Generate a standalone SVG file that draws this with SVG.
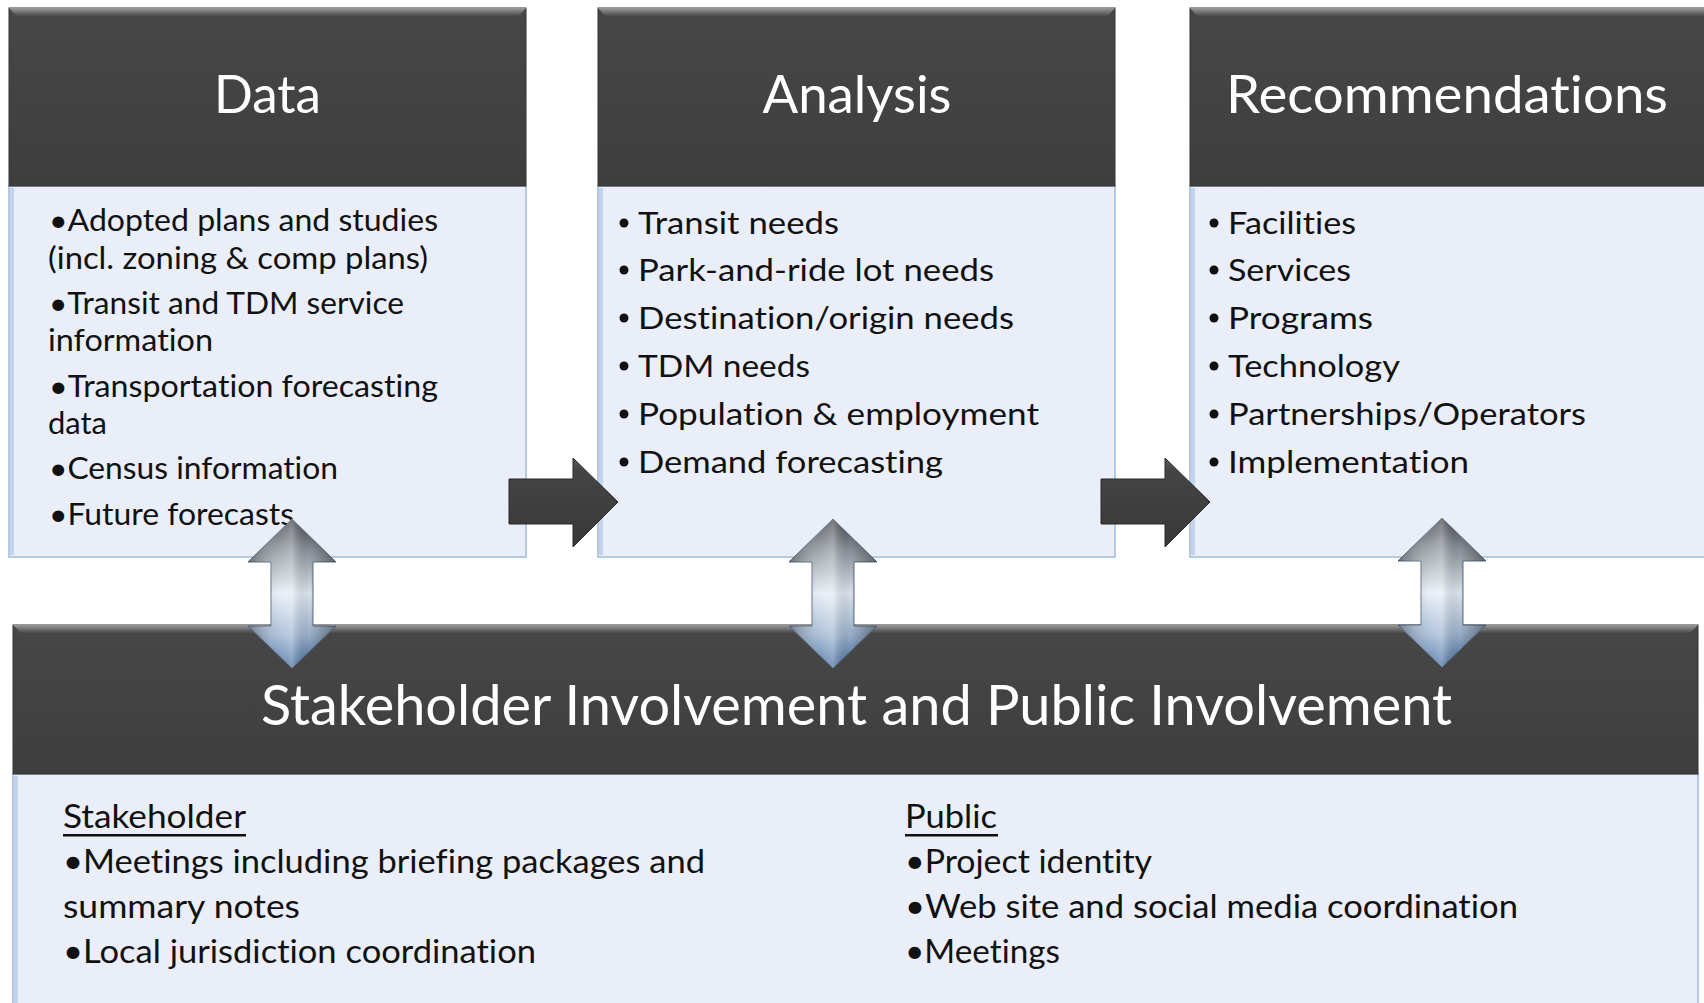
<svg xmlns="http://www.w3.org/2000/svg" width="1704" height="1003" viewBox="0 0 1704 1003">
<defs>
<linearGradient id="hdr" x1="0" y1="0" x2="0" y2="1"><stop offset="0" stop-color="#474747"/><stop offset="1" stop-color="#3e3e3e"/></linearGradient>
<linearGradient id="bevT" x1="0" y1="0" x2="0" y2="1"><stop offset="0" stop-color="#9a9a9a"/><stop offset="1" stop-color="#4a4a4a"/></linearGradient>
<linearGradient id="vfill" x1="0" y1="0" x2="0" y2="1"><stop offset="0" stop-color="#3f4246"/><stop offset="0.2" stop-color="#8d949c"/><stop offset="0.5" stop-color="#e4ecf4"/><stop offset="0.78" stop-color="#9fb6d2"/><stop offset="1" stop-color="#3f6a9e"/></linearGradient>
<linearGradient id="vsheen" x1="0" y1="0" x2="1" y2="0"><stop offset="0" stop-color="#000" stop-opacity="0.35"/><stop offset="0.35" stop-color="#fff" stop-opacity="0.15"/><stop offset="0.5" stop-color="#fff" stop-opacity="0.3"/><stop offset="0.7" stop-color="#000" stop-opacity="0.05"/><stop offset="1" stop-color="#000" stop-opacity="0.4"/></linearGradient>
<linearGradient id="hfill" x1="0" y1="0" x2="0" y2="1"><stop offset="0" stop-color="#5a5a5a"/><stop offset="0.15" stop-color="#444"/><stop offset="1" stop-color="#383838"/></linearGradient>
<polygon id="varrow" points="0,0 44,43 21,43 21,107 44,107 0,149 -44,107 -21,107 -21,43 -44,43"/>
<polygon id="harrow" points="0,21 64,21 64,0 109,44 64,89 64,66 0,66"/>
</defs>
<style>
.hdr{fill:url(#hdr);stroke:#333;stroke-width:1}
.bev{fill:url(#bevT)}
.body{fill:#e9eef8;stroke:#b6c9e3;stroke-width:2}
.edge{stroke:#c3d3ea;stroke-width:4}
text{font-variant-ligatures:none}
.title{font-family:Lato,"Open Sans",sans-serif;font-size:52px;fill:#ffffff;text-anchor:middle}
.big{font-family:Lato,"Open Sans",sans-serif;font-size:56px;fill:#ffffff}
.t{font-family:Lato,"Open Sans",sans-serif;font-size:31px;fill:#111111}
.b{font-family:Lato,"Open Sans",sans-serif;font-size:32px;fill:#111111}
.dot{fill:#111111}
</style>
<rect width="1704" height="1003" fill="#ffffff"/>

<g id="data">
<rect class="body" x="9" y="186" width="517" height="371"/>
<line class="edge" x1="12" y1="188" x2="12" y2="555"/>
<rect class="hdr" x="9" y="8" width="517" height="178"/>
<polygon class="bev" points="9,8 526,8 519,16 16,16"/>
<text class="title" x="267.5" y="113" textLength="107" lengthAdjust="spacingAndGlyphs">Data</text>
<text class="t" x="49" y="231" textLength="389" lengthAdjust="spacingAndGlyphs">•Adopted plans and studies</text>
<text class="t" x="48" y="269" textLength="380" lengthAdjust="spacingAndGlyphs">(incl. zoning &amp; comp plans)</text>
<text class="t" x="49" y="314" textLength="355" lengthAdjust="spacingAndGlyphs">•Transit and TDM service</text>
<text class="t" x="48" y="351" textLength="165" lengthAdjust="spacingAndGlyphs">information</text>
<text class="t" x="49" y="397" textLength="389" lengthAdjust="spacingAndGlyphs">•Transportation forecasting</text>
<text class="t" x="48" y="434" textLength="59" lengthAdjust="spacingAndGlyphs">data</text>
<text class="t" x="49" y="479" textLength="289" lengthAdjust="spacingAndGlyphs">•Census information</text>
<text class="t" x="49" y="525" textLength="245" lengthAdjust="spacingAndGlyphs">•Future forecasts</text>
</g>

<g id="analysis">
<rect class="body" x="598" y="186" width="517" height="371"/>
<line class="edge" x1="601" y1="188" x2="601" y2="555"/>
<rect class="hdr" x="598" y="8" width="517" height="178"/>
<polygon class="bev" points="598,8 1115,8 1108,16 605,16"/>
<text class="title" x="857" y="113" textLength="189" lengthAdjust="spacingAndGlyphs">Analysis</text>
<circle class="dot" cx="624" cy="223" r="4.5"/>
<circle class="dot" cx="624" cy="270" r="4.5"/>
<circle class="dot" cx="624" cy="318" r="4.5"/>
<circle class="dot" cx="624" cy="366" r="4.5"/>
<circle class="dot" cx="624" cy="414" r="4.5"/>
<circle class="dot" cx="624" cy="462" r="4.5"/>
<text class="t" x="638" y="234" textLength="201" lengthAdjust="spacingAndGlyphs">Transit needs</text>
<text class="t" x="638" y="281" textLength="356" lengthAdjust="spacingAndGlyphs">Park-and-ride lot needs</text>
<text class="t" x="638" y="329" textLength="376" lengthAdjust="spacingAndGlyphs">Destination/origin needs</text>
<text class="t" x="638" y="377" textLength="172" lengthAdjust="spacingAndGlyphs">TDM needs</text>
<text class="t" x="638" y="425" textLength="401" lengthAdjust="spacingAndGlyphs">Population &amp; employment</text>
<text class="t" x="638" y="473" textLength="305" lengthAdjust="spacingAndGlyphs">Demand forecasting</text>
</g>

<g id="recommendations">
<rect class="body" x="1190" y="186" width="520" height="371"/>
<line class="edge" x1="1193" y1="188" x2="1193" y2="555"/>
<rect class="hdr" x="1190" y="8" width="520" height="178"/>
<polygon class="bev" points="1190,8 1710,8 1710,16 1197,16"/>
<text class="title" x="1447" y="113" textLength="442" lengthAdjust="spacingAndGlyphs">Recommendations</text>
<circle class="dot" cx="1214" cy="223" r="4.5"/>
<circle class="dot" cx="1214" cy="270" r="4.5"/>
<circle class="dot" cx="1214" cy="318" r="4.5"/>
<circle class="dot" cx="1214" cy="366" r="4.5"/>
<circle class="dot" cx="1214" cy="414" r="4.5"/>
<circle class="dot" cx="1214" cy="462" r="4.5"/>
<text class="t" x="1228" y="234" textLength="128" lengthAdjust="spacingAndGlyphs">Facilities</text>
<text class="t" x="1228" y="281" textLength="123" lengthAdjust="spacingAndGlyphs">Services</text>
<text class="t" x="1228" y="329" textLength="145" lengthAdjust="spacingAndGlyphs">Programs</text>
<text class="t" x="1228" y="377" textLength="172" lengthAdjust="spacingAndGlyphs">Technology</text>
<text class="t" x="1228" y="425" textLength="358" lengthAdjust="spacingAndGlyphs">Partnerships/Operators</text>
<text class="t" x="1228" y="473" textLength="241" lengthAdjust="spacingAndGlyphs">Implementation</text>
</g>

<g id="involvement">
<rect class="body" x="13" y="774" width="1685" height="240"/>
<line class="edge" x1="16" y1="776" x2="16" y2="1003"/>
<rect class="hdr" x="13" y="625" width="1685" height="149"/>
<polygon class="bev" points="13,625 1698,625 1690,633 21,633"/>
<text class="big" x="261" y="725" textLength="1191" lengthAdjust="spacingAndGlyphs">Stakeholder Involvement and Public Involvement</text>
<text class="b" x="63" y="828" textLength="183" lengthAdjust="spacingAndGlyphs">Stakeholder</text>
<rect x="63" y="834" width="183" height="2.5" fill="#111"/>
<text class="b" x="63" y="873" textLength="642" lengthAdjust="spacingAndGlyphs">•Meetings including briefing packages and</text>
<text class="b" x="63" y="918" textLength="237" lengthAdjust="spacingAndGlyphs">summary notes</text>
<text class="b" x="63" y="963" textLength="473" lengthAdjust="spacingAndGlyphs">•Local jurisdiction coordination</text>
<text class="b" x="905" y="828" textLength="92" lengthAdjust="spacingAndGlyphs">Public</text>
<rect x="905" y="834" width="93" height="2.5" fill="#111"/>
<text class="b" x="905" y="873" textLength="247" lengthAdjust="spacingAndGlyphs">•Project identity</text>
<text class="b" x="905" y="918" textLength="613" lengthAdjust="spacingAndGlyphs">•Web site and social media coordination</text>
<text class="b" x="905" y="963" textLength="155" lengthAdjust="spacingAndGlyphs">•Meetings</text>
</g>

<g id="connectors">
<g fill="url(#hfill)" stroke="#2b2b2b" stroke-width="1">
<use href="#harrow" x="509" y="458"/>
<use href="#harrow" x="1101" y="458"/>
</g>
<g stroke="#5c6f86" stroke-width="1">
<use href="#varrow" x="292" y="519" fill="url(#vfill)"/>
<use href="#varrow" x="833" y="519" fill="url(#vfill)"/>
<use href="#varrow" x="1442" y="518" fill="url(#vfill)"/>
</g>
<g fill="url(#vsheen)">
<use href="#varrow" x="292" y="519"/>
<use href="#varrow" x="833" y="519"/>
<use href="#varrow" x="1442" y="518"/>
</g>
</g>
</svg>
